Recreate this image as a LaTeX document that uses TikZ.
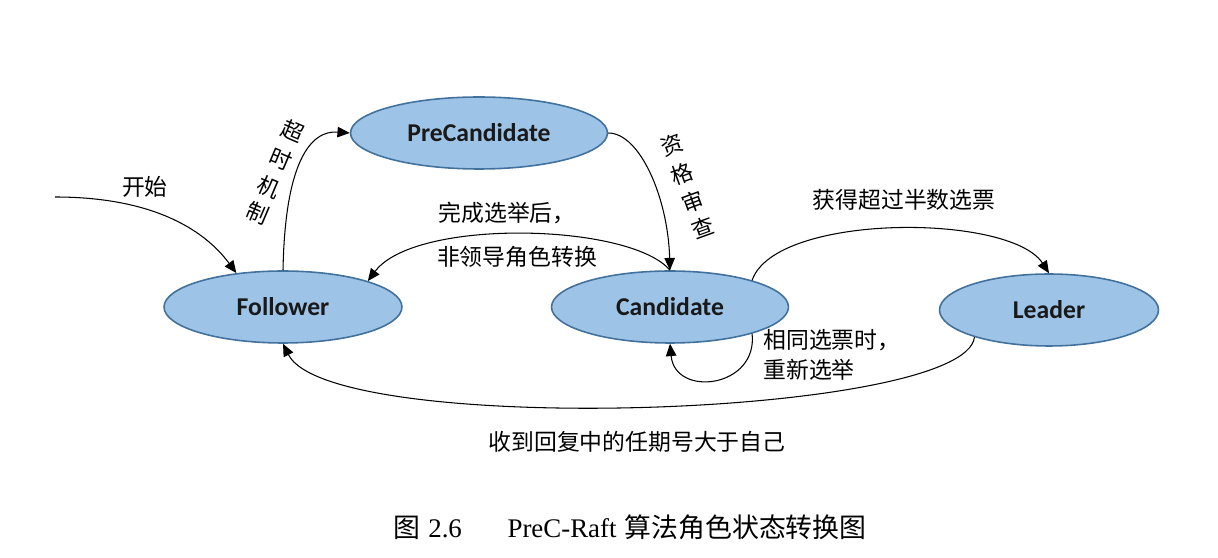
\documentclass[tikz,border=0pt]{standalone}
\usepackage{fontspec}
\setmainfont{Liberation Serif}
\newfontfamily\cjk{Noto Sans CJK SC}
\newfontfamily\lab{Carlito}
\usetikzlibrary{shapes.geometric,arrows.meta}
\definecolor{fillb}{HTML}{9DC3E6}
\definecolor{lineb}{HTML}{41719C}
\begin{document}
\begin{tikzpicture}[x=0.02cm,y=0.02cm,
  state/.style={ellipse,draw=lineb,line width=0.9pt,fill=fillb,minimum height=1.44cm,inner sep=0pt,
    font=\lab\bfseries\fontsize{14.6}{16}\selectfont,text=black!90},
  lbl/.style={font=\cjk\fontsize{13}{15}\selectfont,inner sep=0pt},
  vlbl/.style={font=\cjk\fontsize{12.5}{14}\selectfont,inner sep=0pt},
  edge/.style={line width=0.6pt,-{Triangle[length=7pt,width=6pt]}}]
\useasboundingbox (0,0) rectangle (1218,558);

% states
\node[state,minimum width=4.76cm] (F) at (283,251) {Follower};
\node[state,minimum width=5.14cm] (P) at (479,425) {PreCandidate};
\node[state,minimum width=4.74cm] (C) at (670,251) {Candidate};
\node[state,minimum width=4.38cm] (L) at (1049,248) {Leader};

\coordinate (S) at (55,361);

% connectors
\draw[edge] (S) .. controls (150,361) and (203,330) .. (F.144);
\draw[edge] (F.north) .. controls (285,395) and (310,428) .. (P.west);
\draw[edge] (P.east) .. controls (640,425) and (668,360) .. (C.north);
\draw[edge] (C.north) .. controls (630,335) and (415,340) .. (F.17);
\draw[edge] (C.18) .. controls (775,345) and (1010,345) .. (L.north);
\draw[edge] (C.-18) .. controls (758,170) and (675,160) .. (C.south);
\draw[edge] (L.200) .. controls (965,140) and (330,120) .. (F.south);

% labels
\node[lbl] (start) at (145,371) {开始};
\node[vlbl,rotate=-23] (t1) at (293,427) {超};
\node[vlbl,rotate=-23] (t2) at (281,399) {时};
\node[vlbl,rotate=-23] (t3) at (269,371) {机};
\node[vlbl,rotate=-23] (t4) at (258,345) {制};
\node[vlbl,rotate=20] (q1) at (672,413) {资};
\node[vlbl,rotate=20] (q2) at (682,384) {格};
\node[vlbl,rotate=20] (q3) at (693,356) {审};
\node[vlbl,rotate=20] (q4) at (703,330) {查};
\node[lbl] (done1) at (507,345) {完成选举后，};
\node[lbl] (done2) at (517,301) {非领导角色转换};
\node[lbl] (win) at (904,358) {获得超过半数选票};
\node[lbl,anchor=west] (tie1) at (763,218) {相同选票时，};
\node[lbl,anchor=west] (tie2) at (763,188) {重新选举};
\node[lbl] (back) at (637,116) {收到回复中的任期号大于自己};

% caption
\node[font=\fontsize{15.3}{17}\selectfont,inner sep=0pt] (cap) at (630,31)
  {{\cjk 图}\hspace{0.3em}2.6\hspace{1.7em}PreC-Raft\hspace{0.3em}{\cjk 算法角色状态转换图}};
\end{tikzpicture}
\end{document}
